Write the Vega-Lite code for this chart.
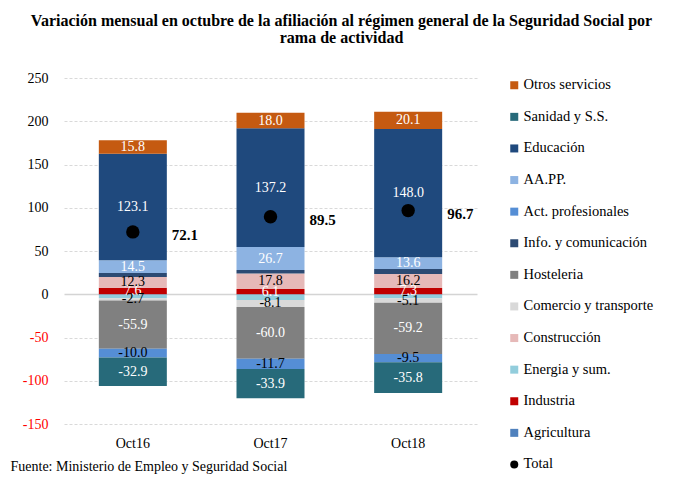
{
  "$schema": "https://vega.github.io/schema/vega-lite/v6.json",
  "width": 413,
  "height": 346,
  "autosize": {"type": "none"},
  "padding": {"left": 64, "top": 78, "right": 201, "bottom": 53},
  "background": "white",
  "config": {"view": {"stroke": null}, "font": "Liberation Serif"},
  "title": {
    "text": ["Variación mensual en octubre de la afiliación al régimen general de la Seguridad Social por", "rama de actividad"],
    "font": "Liberation Serif",
    "fontSize": 16,
    "fontWeight": "bold",
    "color": "black",
    "anchor": "middle",
    "frame": "group",
    "dx": 71,
    "offset": 25,
    "lineHeight": 17
  },
  "datasets": {
    "ramas": [
      {"mes": "Oct16", "rama": "Agricultura", "orden": 1, "valor": -0.6},
      {"mes": "Oct16", "rama": "Industria", "orden": 2, "valor": 7.6},
      {"mes": "Oct16", "rama": "Energia y sum.", "orden": 3, "valor": -3.9},
      {"mes": "Oct16", "rama": "Construcción", "orden": 4, "valor": 12.3},
      {"mes": "Oct16", "rama": "Comercio y transporte", "orden": 5, "valor": -2.7},
      {"mes": "Oct16", "rama": "Hosteleria", "orden": 6, "valor": -55.9},
      {"mes": "Oct16", "rama": "Info. y comunicación", "orden": 7, "valor": 4.8},
      {"mes": "Oct16", "rama": "Act. profesionales", "orden": 8, "valor": -10.0},
      {"mes": "Oct16", "rama": "AA.PP.", "orden": 9, "valor": 14.5},
      {"mes": "Oct16", "rama": "Educación", "orden": 10, "valor": 123.1},
      {"mes": "Oct16", "rama": "Sanidad y S.S.", "orden": 11, "valor": -32.9},
      {"mes": "Oct16", "rama": "Otros servicios", "orden": 12, "valor": 15.8},
      {"mes": "Oct17", "rama": "Agricultura", "orden": 1, "valor": -0.6},
      {"mes": "Oct17", "rama": "Industria", "orden": 2, "valor": 6.1},
      {"mes": "Oct17", "rama": "Energia y sum.", "orden": 3, "valor": -6.0},
      {"mes": "Oct17", "rama": "Construcción", "orden": 4, "valor": 17.8},
      {"mes": "Oct17", "rama": "Comercio y transporte", "orden": 5, "valor": -8.1},
      {"mes": "Oct17", "rama": "Hosteleria", "orden": 6, "valor": -60.0},
      {"mes": "Oct17", "rama": "Info. y comunicación", "orden": 7, "valor": 4.0},
      {"mes": "Oct17", "rama": "Act. profesionales", "orden": 8, "valor": -11.7},
      {"mes": "Oct17", "rama": "AA.PP.", "orden": 9, "valor": 26.7},
      {"mes": "Oct17", "rama": "Educación", "orden": 10, "valor": 137.2},
      {"mes": "Oct17", "rama": "Sanidad y S.S.", "orden": 11, "valor": -33.9},
      {"mes": "Oct17", "rama": "Otros servicios", "orden": 12, "valor": 18.0},
      {"mes": "Oct18", "rama": "Agricultura", "orden": 1, "valor": -0.5},
      {"mes": "Oct18", "rama": "Industria", "orden": 2, "valor": 7.3},
      {"mes": "Oct18", "rama": "Energia y sum.", "orden": 3, "valor": -4.2},
      {"mes": "Oct18", "rama": "Construcción", "orden": 4, "valor": 16.2},
      {"mes": "Oct18", "rama": "Comercio y transporte", "orden": 5, "valor": -5.1},
      {"mes": "Oct18", "rama": "Hosteleria", "orden": 6, "valor": -59.2},
      {"mes": "Oct18", "rama": "Info. y comunicación", "orden": 7, "valor": 5.8},
      {"mes": "Oct18", "rama": "Act. profesionales", "orden": 8, "valor": -9.5},
      {"mes": "Oct18", "rama": "AA.PP.", "orden": 9, "valor": 13.6},
      {"mes": "Oct18", "rama": "Educación", "orden": 10, "valor": 148.0},
      {"mes": "Oct18", "rama": "Sanidad y S.S.", "orden": 11, "valor": -35.8},
      {"mes": "Oct18", "rama": "Otros servicios", "orden": 12, "valor": 20.1}
    ],
    "totales": [
      {"mes": "Oct16", "total": 72.1},
      {"mes": "Oct17", "total": 89.5},
      {"mes": "Oct18", "total": 96.7}
    ]
  },
  "layer": [
    {
      "data": {"name": "ramas"},
      "transform": [
        {"stack": "valor", "groupby": ["mes"], "sort": [{"field": "orden", "order": "ascending"}], "as": ["y0", "y1"], "offset": "zero"}
      ],
      "mark": {"type": "bar"},
      "encoding": {
        "x": {
          "field": "mes", "type": "nominal", "sort": ["Oct16", "Oct17", "Oct18"],
          "scale": {"paddingInner": 0.506, "paddingOuter": 0.253},
          "axis": {
            "title": "Fuente:  Ministerio de Empleo  y Seguridad Social",
            "titleFont": "Liberation Serif", "titleFontSize": 14, "titleFontWeight": "normal", "titleColor": "black",
            "titleAnchor": "start", "titleAlign": "left", "titleX": -54, "titleY": 46, "titleBaseline": "alphabetic",
            "labelAngle": 0, "domain": false, "ticks": false, "labelPadding": 12,
            "labelFont": "Liberation Serif", "labelFontSize": 14, "labelColor": "black"
          }
        },
        "y": {
          "field": "y0", "type": "quantitative",
          "scale": {"domain": [-150, 250], "nice": false, "zero": false},
          "axis": {
            "title": null, "values": [-150, -100, -50, 0, 50, 100, 150, 200, 250],
            "labelExpr": "'' + datum.value",
            "domain": false, "ticks": false, "labelPadding": 16,
            "labelFont": "Liberation Serif", "labelFontSize": 14,
            "labelColor": {"condition": {"test": "datum.value < 0", "value": "#ff0000"}, "value": "black"},
            "gridColor": {"condition": {"test": "datum.value === 0", "value": "#d4d4d4"}, "value": "#d9d9d9"},
            "gridDash": {"condition": {"test": "datum.value === 0", "value": []}, "value": [3, 2]},
            "gridWidth": {"condition": {"test": "datum.value === 0", "value": 1.5}, "value": 1}
          }
        },
        "y2": {"field": "y1"},
        "color": {
          "field": "rama", "type": "nominal",
          "scale": {
            "domain": ["Otros servicios", "Sanidad y S.S.", "Educación", "AA.PP.", "Act. profesionales", "Info. y comunicación", "Hosteleria", "Comercio y transporte", "Construcción", "Energia y sum.", "Industria", "Agricultura", "Total"],
            "range": ["#c55a11", "#276a7a", "#1f497d", "#8db3e2", "#558ed5", "#2c4a73", "#808080", "#d9d9d9", "#e6b9b8", "#92cddc", "#c00000", "#4f81bd", "#000000"]
          },
          "legend": {
            "orient": "none", "legendX": 443, "legendY": 0, "title": null,
            "symbolType": "square", "symbolSize": 64, "symbolStrokeWidth": 0,
            "labelFont": "Liberation Serif", "labelFontSize": 14.5, "labelColor": "black",
            "rowPadding": 16.6, "labelOffset": 2, "padding": 0, "labelLimit": 250,
            "encode": {"symbols": {"update": {"shape": {"signal": "datum.value === 'Total' ? 'circle' : 'square'"}}}}
          }
        }
      }
    },
    {
      "data": {"name": "ramas"},
      "transform": [
        {"stack": "valor", "groupby": ["mes"], "sort": [{"field": "orden", "order": "ascending"}], "as": ["y0", "y1"], "offset": "zero"},
        {"calculate": "(datum.y0 + datum.y1) / 2", "as": "mid"},
        {"calculate": "replace(format(datum.valor, '.1f'), '\u2212', '-')", "as": "etiqueta"},
        {"filter": "indexof(['Agricultura', 'Energia y sum.', 'Info. y comunicación'], datum.rama) < 0"}
      ],
      "mark": {"type": "text", "font": "Liberation Serif", "fontSize": 14, "baseline": "middle", "align": "center"},
      "encoding": {
        "x": {"field": "mes", "type": "nominal", "sort": ["Oct16", "Oct17", "Oct18"]},
        "y": {"field": "mid", "type": "quantitative", "axis": {"title": null}},
        "text": {"field": "etiqueta", "type": "nominal"},
        "color": {
          "condition": {"test": "indexof(['Construcción', 'Comercio y transporte', 'Act. profesionales'], datum.rama) >= 0", "value": "black"},
          "value": "white"
        }
      }
    },
    {
      "data": {"name": "totales"},
      "mark": {"type": "point", "filled": true, "color": "black", "size": 180, "opacity": 1},
      "encoding": {
        "x": {"field": "mes", "type": "nominal", "sort": ["Oct16", "Oct17", "Oct18"]},
        "y": {"field": "total", "type": "quantitative", "axis": {"title": null}}
      }
    },
    {
      "data": {"name": "totales"},
      "mark": {"type": "text", "font": "Liberation Serif", "fontSize": 15, "fontWeight": "bold", "align": "left", "baseline": "middle", "dx": 39, "dy": 3, "color": "black"},
      "encoding": {
        "x": {"field": "mes", "type": "nominal", "sort": ["Oct16", "Oct17", "Oct18"]},
        "y": {"field": "total", "type": "quantitative", "axis": {"title": null}},
        "text": {"field": "total", "type": "quantitative", "format": ".1f"}
      }
    }
  ]
}
